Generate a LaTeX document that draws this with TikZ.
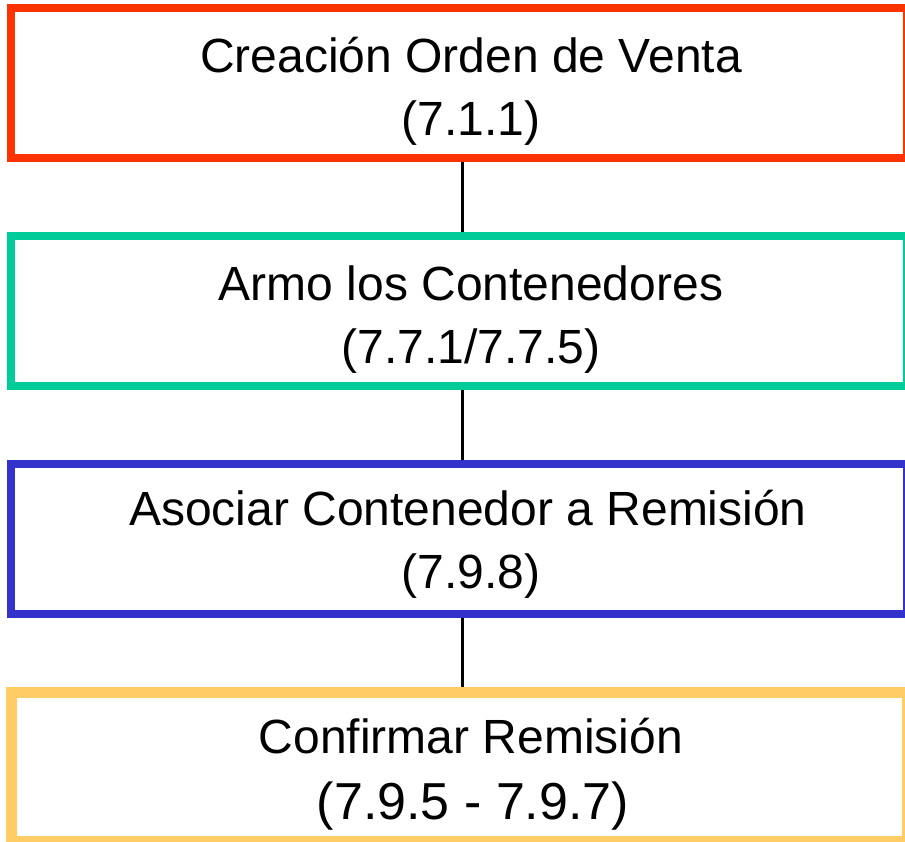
\documentclass[tikz,border=0pt]{standalone}
\usepackage{fontspec}
\setmainfont{Liberation Sans}
\definecolor{cred}{HTML}{FF3300}
\definecolor{cteal}{HTML}{00CC99}
\definecolor{cblue}{HTML}{3333CC}
\definecolor{cyellow}{HTML}{FFCC66}
\tikzset{
  box/.style={draw, rectangle, line width=8pt, minimum width=896pt, minimum height=150pt, inner sep=0pt, fill=white},
  txt/.style={anchor=base, inner sep=0pt, font=\fontsize{48}{58}\selectfont},
  txtbig/.style={anchor=base, inner sep=0pt, font=\fontsize{52}{60}\selectfont},
  conn/.style={draw=black, line width=3pt}
}
\begin{document}
\begin{tikzpicture}[x=1pt,y=-1pt]
\useasboundingbox (0,0) rectangle (905,841);
\node[box, draw=cred] (b1) at (459,83) {};
\node[box, draw=cteal] (b2) at (459,311) {};
\node[box, draw=cblue] (b3) at (459,539) {};
\node[box, draw=cyellow, line width=11pt, minimum height=149.5pt] (b4) at (459.5,766.75) {};
\draw[conn] ([xshift=3pt]b1.south) -- ([xshift=3pt]b2.north);
\draw[conn] ([xshift=3pt]b2.south) -- ([xshift=3pt]b3.north);
\draw[conn] ([xshift=3pt]b3.south) -- ([xshift=2.5pt]b4.north);
\node[txt] (t1a) at (471,72) {Creación Orden de Venta};
\node[txt] (t1b) at (471,135) {(7.1.1)};
\node[txt] (t2a) at (471,300) {Armo los Contenedores};
\node[txt] (t2b) at (471,363) {(7.7.1/7.7.5)};
\node[txt] (t3a) at (468,525) {Asociar Contenedor a Remisión};
\node[txt] (t3b) at (471,588) {(7.9.8)};
\node[txt] (t4a) at (471,753) {Confirmar Remisión};
\node[txtbig] (t4b) at (473,819) {(7.9.5 - 7.9.7)};
\end{tikzpicture}
\end{document}
